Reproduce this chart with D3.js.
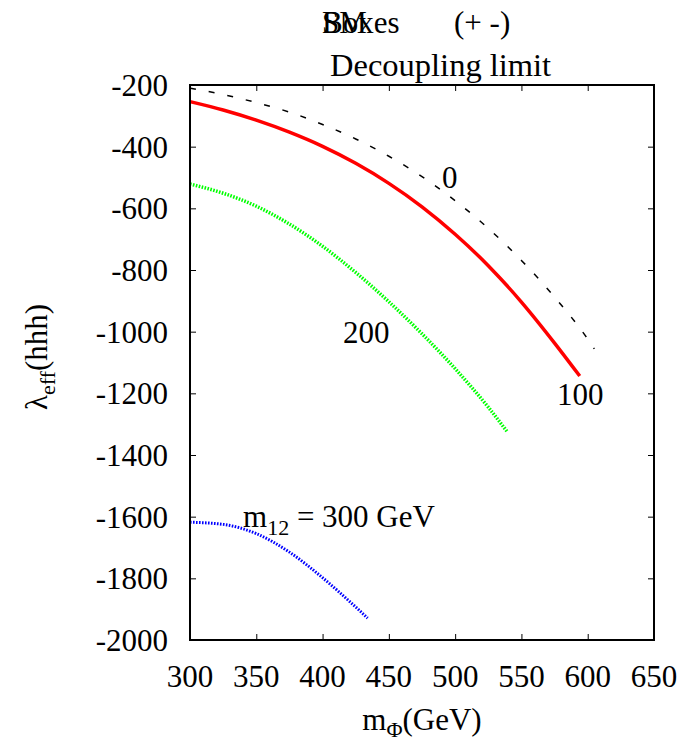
<!DOCTYPE html>
<html>
<head>
<meta charset="utf-8">
<script src="https://cdn.jsdelivr.net/npm/d3@7"></script>
<style>
  body { margin: 0; background: #fff; }
  text { font-family: "Liberation Serif", "DejaVu Serif", serif; fill: #000; }
</style>
</head>
<body>
<script>
//data
var xTicks = [300, 350, 400, 450, 500, 550, 600, 650];
var yTicks = [-200, -400, -600, -800, -1000, -1200, -1400, -1600, -1800, -2000];

var mPhi0 = [300, 325, 350, 375, 400, 425, 450, 475, 500, 525, 550, 575, 600, 605];
var lam0 = [-210, -231, -257, -288, -328, -375, -431, -497, -575, -665, -769, -888, -1024, -1056];

var mPhi100 = [300, 325, 350, 375, 400, 425, 450, 475, 500, 525, 550, 575, 594];
var lam100 = [-254, -281, -314, -353, -399, -454, -519, -595, -684, -786, -904, -1037, -1144];

var mPhi200 = [300, 325, 350, 375, 400, 425, 450, 475, 500, 525, 539];
var lam200 = [-521, -551, -593, -651, -723, -808, -903, -1007, -1120, -1245, -1323];

var mPhi300 = [300, 325, 350, 375, 400, 425, 434];
var lam300 = [-1618, -1625, -1655, -1715, -1798, -1893, -1929];

//metrics
var W = 690, H = 742;
var padL = 190, padT = 85, plotW = 464, plotH = 555;

var svg = d3.select('body').append('svg')
            .attr('width', W)
            .attr('height', H);

var x = d3.scaleLinear().domain([300, 650]).range([padL, padL + plotW]);
var y = d3.scaleLinear().domain([-200, -2000]).range([padT, padT + plotH]);

function zip(xs, ys){
  return xs.map(function(v, i){ return [v, ys[i]]; });
}

var line = d3.line()
  .x(function(d){ return x(d[0]); })
  .y(function(d){ return y(d[1]); })
  .curve(d3.curveMonotoneX);

//curves
svg.append('path').datum(zip(mPhi0, lam0))
  .attr('d', line).attr('fill', 'none')
  .attr('stroke', 'black').attr('stroke-width', 1.5)
  .attr('stroke-dasharray', '6,13');

svg.append('path').datum(zip(mPhi100, lam100))
  .attr('d', line).attr('fill', 'none')
  .attr('stroke', '#ff0000').attr('stroke-width', 3.5);

svg.append('path').datum(zip(mPhi200, lam200))
  .attr('d', line).attr('fill', 'none')
  .attr('stroke', '#00ff00').attr('stroke-width', 3.5)
  .attr('stroke-dasharray', '1.6,1.4');

svg.append('path').datum(zip(mPhi300, lam300))
  .attr('d', line).attr('fill', 'none')
  .attr('stroke', '#0000ff').attr('stroke-width', 3)
  .attr('stroke-dasharray', '1.6,1.4');

//axes, ticks on all sides pointing in
var tickLen = 6;
svg.append('g').attr('transform', 'translate(0,' + (padT + plotH) + ')')
  .call(d3.axisBottom(x).tickValues(xTicks).tickSize(-tickLen).tickFormat(''));
svg.append('g').attr('transform', 'translate(0,' + padT + ')')
  .call(d3.axisTop(x).tickValues(xTicks).tickSize(-tickLen).tickFormat(''));
svg.append('g').attr('transform', 'translate(' + padL + ',0)')
  .call(d3.axisLeft(y).tickValues(yTicks).tickSize(-tickLen).tickFormat(''));
svg.append('g').attr('transform', 'translate(' + (padL + plotW) + ',0)')
  .call(d3.axisRight(y).tickValues(yTicks).tickSize(-tickLen).tickFormat(''));
svg.selectAll('.domain').remove();
svg.selectAll('.tick line').attr('stroke', 'black').attr('stroke-width', 1);
svg.selectAll('.tick text').remove();

svg.append('rect')
  .attr('x', padL).attr('y', padT)
  .attr('width', plotW).attr('height', plotH)
  .attr('fill', 'none').attr('stroke', 'black').attr('stroke-width', 2);

//tick labels
svg.selectAll('text.xt').data(xTicks).enter().append('text')
  .attr('class', 'xt')
  .attr('x', function(d){ return x(d); })
  .attr('y', padT + plotH + 47)
  .attr('text-anchor', 'middle')
  .attr('font-size', 31)
  .text(function(d){ return d; });

svg.selectAll('text.yt').data(yTicks).enter().append('text')
  .attr('class', 'yt')
  .attr('x', padL - 22)
  .attr('y', function(d){ return y(d) + 11; })
  .attr('text-anchor', 'end')
  .attr('font-size', 31)
  .text(function(d){ return d; });

//axis titles
var xl = svg.append('text')
  .attr('x', x(475)).attr('y', 730)
  .attr('text-anchor', 'middle').attr('font-size', 31);
xl.append('tspan').text('m');
xl.append('tspan').attr('font-size', 22).attr('dy', 7).text('Φ');
xl.append('tspan').attr('dy', -7).text('(GeV)');

var yl = svg.append('text')
  .attr('transform', 'translate(47,357) rotate(-90)')
  .attr('text-anchor', 'middle').attr('font-size', 31);
yl.append('tspan').text('λ');
yl.append('tspan').attr('font-size', 22).attr('dy', 8).text('eff');
yl.append('tspan').attr('dy', -8).text('(hhh)');

//titles
svg.append('text').attr('x', 322).attr('y', 33).attr('font-size', 31).text('SM');
svg.append('text').attr('x', 322).attr('y', 33).attr('font-size', 31).text('Boxes');
svg.append('text').attr('x', 454).attr('y', 33).attr('font-size', 31).text('(+ -)');
svg.append('text').attr('x', 330).attr('y', 76).attr('font-size', 32.5).text('Decoupling limit');

//curve labels
svg.append('text').attr('x', 442).attr('y', 188).attr('font-size', 31).text('0');
svg.append('text').attr('x', 557).attr('y', 405).attr('font-size', 31).text('100');
svg.append('text').attr('x', 343).attr('y', 343).attr('font-size', 31).text('200');

var ml = svg.append('text').attr('x', 243).attr('y', 527).attr('font-size', 31);
ml.append('tspan').text('m');
ml.append('tspan').attr('font-size', 22).attr('dy', 8).text('12');
ml.append('tspan').attr('dy', -8).text(' = 300 GeV');
</script>
</body>
</html>
